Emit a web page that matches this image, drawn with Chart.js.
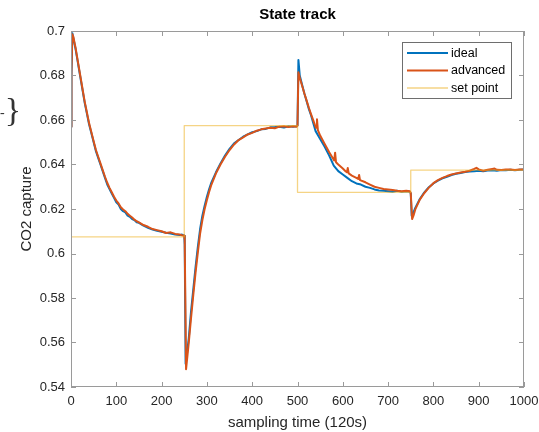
<!DOCTYPE html>
<html>
<head>
<meta charset="utf-8">
<script src="https://cdn.jsdelivr.net/npm/chart.js@4.4.1/dist/chart.umd.min.js"></script>
<style>
  html, body { margin: 0; padding: 0; background: #fff; }
  #wrap { position: relative; width: 539px; height: 432px; }
  #brace { position: absolute; left: 0; top: 93px; font: 34px "Liberation Serif", serif; color: #333; line-height: 34px; }
</style>
</head>
<body>
<div id="wrap">
  <canvas id="stateChart" width="539" height="432"></canvas>
  <div id="brace"><span style="font-size:14px;vertical-align:middle">-</span>}</div>
</div>
<script>
// sampling index / CO2 capture values
const idealIdx = [0,1,3,5,10,15,20,25,30,35,40,45,50,55,60,65,70,75,80,85,90,95,100,105,110,115,120,125,130,135,140,145,150,160,170,180,190,200,210,220,230,240,245,250,
  251,253,256,260,265,270,275,280,285,290,295,300,305,310,320,330,340,350,360,370,380,390,400,410,420,430,440,450,460,470,480,490,498,500,
  502,505,510,515,520,525,530,540,550,560,570,580,590,600,610,620,630,640,650,660,670,680,690,700,710,720,730,740,748,750,
  752,755,760,770,780,790,800,810,820,830,840,850,860,870,880,890,900,910,920,930,940,950,960,970,980,990,1000];
const idealVals = [0.657,0.680,0.699,0.697,0.692,0.686,0.680,0.674,0.668,0.663,0.658,0.654,0.650,0.646,0.643,0.640,0.637,0.634,0.631,0.629,0.627,0.625,0.623,0.622,0.620,0.619,0.6185,0.617,0.6165,0.6155,0.615,0.614,0.6138,0.6125,0.6115,0.6108,0.6102,0.6098,0.6093,0.609,0.6085,0.6083,0.6085,0.608,
  0.604,0.5505,0.555,0.562,0.574,0.584,0.594,0.603,0.611,0.617,0.6215,0.6255,0.629,0.632,0.6365,0.6405,0.644,0.647,0.6495,0.651,0.6525,0.6535,0.6545,0.655,0.6558,0.656,0.6567,0.6568,0.657,0.6566,0.6572,0.657,0.6572,0.6575,
  0.687,0.680,0.676,0.672,0.6685,0.665,0.662,0.655,0.6515,0.648,0.644,0.6395,0.637,0.6355,0.634,0.6325,0.6315,0.631,0.6300,0.6295,0.6288,0.6283,0.6282,0.628,0.6278,0.6282,0.6277,0.628,0.6278,0.627,
  0.617,0.618,0.6205,0.6245,0.6275,0.6298,0.6315,0.6327,0.6338,0.6345,0.6353,0.6358,0.6362,0.6366,0.6368,0.637,0.6372,0.637,0.6373,0.6374,0.6372,0.6375,0.6374,0.6376,0.6374,0.6376,0.6378];

const advancedIdx = [0,1,3,5,10,15,20,25,30,35,40,45,50,55,60,65,70,75,80,85,90,95,100,105,110,115,120,125,130,135,140,145,150,160,170,180,190,200,210,220,230,240,245,250,
  251,254,257,260,265,270,275,280,285,290,295,300,305,310,320,330,340,350,360,370,380,390,400,410,420,430,440,450,460,470,480,490,498,500,
  502,505,510,515,520,525,530,538,541,543,545,550,560,570,578,581,583,585,590,600,606,609,611,613,620,630,634,636,638,650,660,670,680,690,700,710,720,730,740,748,750,
  753,756,760,770,780,790,800,810,820,830,840,850,860,870,880,890,895,900,910,920,930,935,940,950,960,970,980,990,1000];
const advancedVals = [0.657,0.682,0.6985,0.6975,0.6925,0.6865,0.6805,0.6745,0.6685,0.6635,0.6585,0.6545,0.6505,0.6465,0.6435,0.6405,0.6375,0.6345,0.6318,0.6295,0.6275,0.6255,0.6238,0.6225,0.6208,0.6198,0.619,0.6178,0.617,0.6162,0.6152,0.6145,0.614,0.6128,0.612,0.611,0.6105,0.61,0.6092,0.6095,0.6088,0.6085,0.6082,0.608,
  0.606,0.548,0.554,0.56,0.571,0.5815,0.5915,0.6005,0.609,0.615,0.62,0.624,0.6278,0.631,0.636,0.64,0.6435,0.6465,0.649,0.651,0.6522,0.6535,0.6542,0.6552,0.6558,0.6562,0.6565,0.6563,0.657,0.6572,0.6568,0.6572,0.657,0.6575,
  0.6815,0.679,0.6755,0.672,0.6688,0.6655,0.6625,0.658,0.6565,0.6603,0.6555,0.653,0.6492,0.6455,0.6428,0.6418,0.6453,0.641,0.64,0.6382,0.637,0.6365,0.6384,0.636,0.635,0.634,0.6335,0.6353,0.633,0.632,0.631,0.630,0.6295,0.629,0.6288,0.6285,0.6282,0.628,0.6282,0.628,0.6272,
  0.6155,0.617,0.6198,0.6242,0.6272,0.6296,0.6316,0.633,0.634,0.6348,0.6355,0.636,0.6364,0.6367,0.6372,0.638,0.6385,0.6378,0.6372,0.6376,0.638,0.6382,0.6376,0.6375,0.6378,0.6377,0.6375,0.6378,0.6378];

const setIdx = [0,250,250,500,500,750,750,1000];
const setVals = [0.6075,0.6075,0.6575,0.6575,0.6275,0.6275,0.6375,0.6375];

const xTicks = [0,100,200,300,400,500,600,700,800,900,1000];
const yTicks = [0.54,0.56,0.58,0.6,0.62,0.64,0.66,0.68,0.7];

const toPoints = (xs, ys) => xs.map((x, i) => ({ x: x, y: ys[i] }));

// matlab style box, inward ticks, legend and title
const matlabFrame = {
  id: 'matlabFrame',
  afterDatasetsDraw(chart) {
    const { ctx, chartArea: a, scales: { x, y } } = chart;
    ctx.save();
    ctx.strokeStyle = '#9a9a9a';
    ctx.lineWidth = 1;
    ctx.strokeRect(a.left + 0.5, a.top + 0.5, a.right - a.left - 1, a.bottom - a.top - 1);
    ctx.beginPath();
    xTicks.forEach(v => {
      const px = Math.round(x.getPixelForValue(v)) + 0.5;
      ctx.moveTo(px, a.bottom); ctx.lineTo(px, a.bottom - 5);
      ctx.moveTo(px, a.top); ctx.lineTo(px, a.top + 5);
    });
    yTicks.forEach(v => {
      const py = Math.round(y.getPixelForValue(v)) + 0.5;
      ctx.moveTo(a.left, py); ctx.lineTo(a.left + 5, py);
      ctx.moveTo(a.right, py); ctx.lineTo(a.right - 5, py);
    });
    ctx.stroke();

    // legend
    const lx = 402, ly = 42, lw = 109, lh = 56;
    ctx.fillStyle = '#fff';
    ctx.fillRect(lx, ly, lw, lh);
    ctx.strokeStyle = '#6e6e6e';
    ctx.strokeRect(lx + 0.5, ly + 0.5, lw, lh);
    ctx.font = '12.5px "Liberation Sans", Arial, sans-serif';
    ctx.textBaseline = 'middle';
    chart.data.datasets.forEach((ds, i) => {
      const yy = ly + 11 + i * 17.5;
      ctx.strokeStyle = ds.borderColor;
      ctx.lineWidth = ds.borderWidth;
      ctx.beginPath();
      ctx.moveTo(lx + 5, yy); ctx.lineTo(lx + 46, yy);
      ctx.stroke();
      ctx.fillStyle = '#000';
      ctx.fillText(ds.label, lx + 49, yy + 0.5);
    });

    // title
    ctx.font = 'bold 15px "Liberation Sans", Arial, sans-serif';
    ctx.fillStyle = '#000';
    ctx.textAlign = 'center';
    ctx.fillText('State track', (a.left + a.right) / 2, 15);
    ctx.restore();
  }
};

new Chart(document.getElementById('stateChart'), {
  type: 'line',
  data: {
    datasets: [
      { label: 'ideal', data: toPoints(idealIdx, idealVals), borderColor: '#0072BD', borderWidth: 2, order: 3 },
      { label: 'advanced', data: toPoints(advancedIdx, advancedVals), borderColor: '#D95319', borderWidth: 2, order: 2 },
      { label: 'set point', data: toPoints(setIdx, setVals), borderColor: 'rgba(237,177,32,0.55)', borderWidth: 1.3, order: 1 }
    ]
  },
  options: {
    responsive: false,
    animation: false,
    layout: { padding: { top: 31, right: 15, left: 0, bottom: 0 } },
    elements: { point: { radius: 0 }, line: { tension: 0, borderJoinStyle: 'round' } },
    plugins: { legend: { display: false }, title: { display: false }, tooltip: { enabled: false } },
    scales: {
      x: {
        type: 'linear', min: 0, max: 1000,
        grid: { display: false, drawTicks: false },
        border: { display: false },
        afterBuildTicks: s => { s.ticks = xTicks.map(v => ({ value: v })); },
        afterFit: s => { s.height = 45; s.paddingLeft = 0; s.paddingRight = 0; },
        ticks: { color: '#262626', padding: 7, maxRotation: 0, autoSkip: false,
          callback: v => String(v),
          font: { family: '"Liberation Sans", Arial, sans-serif', size: 13 } },
        title: { display: true, text: 'sampling time (120s)', color: '#262626', padding: { top: 0, bottom: 0 },
          font: { family: '"Liberation Sans", Arial, sans-serif', size: 15 } }
      },
      y: {
        min: 0.54, max: 0.7,
        grid: { display: false, drawTicks: false },
        border: { display: false },
        afterBuildTicks: s => { s.ticks = yTicks.map(v => ({ value: v })); },
        afterFit: s => { s.width = 71; s.paddingTop = 0; s.paddingBottom = 0; },
        ticks: { color: '#262626', padding: 6, autoSkip: false,
          callback: v => String(Number(v.toFixed(2))),
          font: { family: '"Liberation Sans", Arial, sans-serif', size: 13 } },
        title: { display: true, text: 'CO2 capture', color: '#262626', padding: { top: 18, bottom: 0 },
          font: { family: '"Liberation Sans", Arial, sans-serif', size: 15 } }
      }
    }
  },
  plugins: [matlabFrame]
});
</script>
</body>
</html>
